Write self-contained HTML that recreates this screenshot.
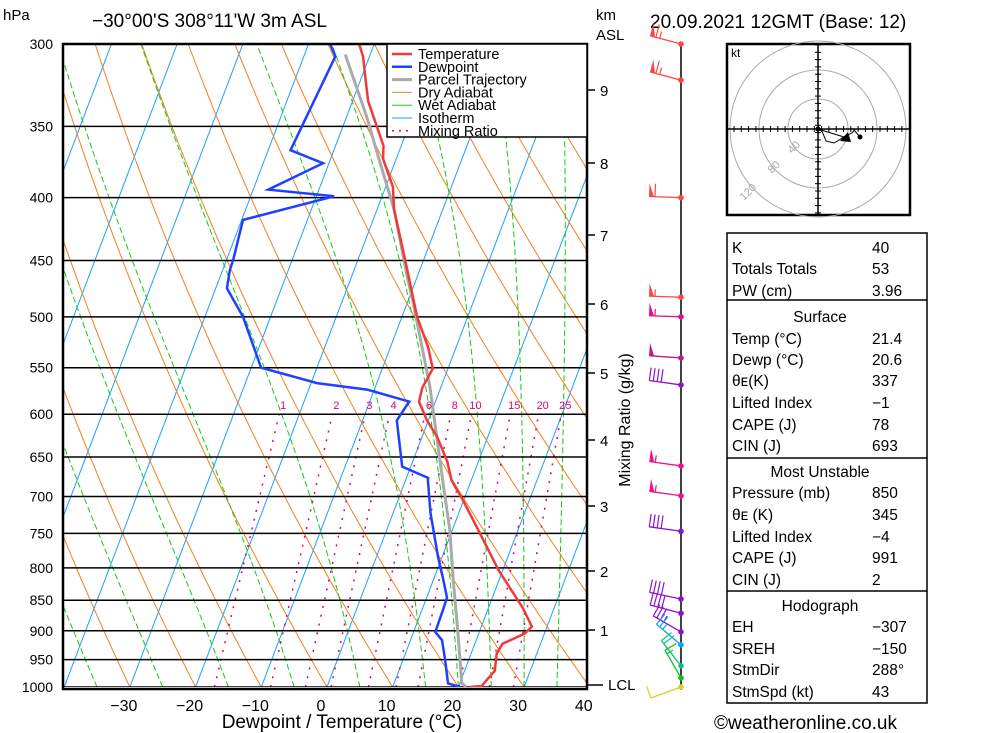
<!DOCTYPE html>
<html><head><meta charset="utf-8"><style>
html,body{margin:0;padding:0;background:#fff;}
svg{display:block;font-family:"Liberation Sans",sans-serif;}
</style></head><body>
<svg id="chart" width="1000" height="733" viewBox="0 0 1000 733" xmlns="http://www.w3.org/2000/svg">
<defs><clipPath id="plotclip"><rect x="63" y="44" width="524" height="643"/></clipPath></defs>
<rect x="0" y="0" width="1000" height="733" fill="#fff"/>
<g id="bg" clip-path="url(#plotclip)"></g>
<g id="series" clip-path="url(#plotclip)"></g>
<g id="axes"></g>
<g id="legend"></g>
<g id="winds"></g>
<g id="hodo"></g>
<g id="table"></g>
</svg>
<script>
// ---------- data ----------
const tempPressure=[1000,998,987,970,940,922,905,893,862,804,750,705,679,675,656,626,607,586,571,551,529,500,458,409,392,372,363,334,326,307,300];
const tempValues=[21.8,23.5,23.9,24.6,23.9,24.2,27.0,27.7,25.2,19.4,14.4,9.9,7.0,6.7,5.3,2.3,-0.2,-2.5,-2.8,-2.3,-4.3,-7.7,-11.9,-17.4,-18.9,-22.0,-22.7,-27.6,-28.6,-31.0,-32.3];
const dewPressure=[1000,993,950,916,902,866,846,818,784,722,679,676,662,607,586,573,566,550,500,474,458,449,417,399,394,375,366,307,300];
const dewValues=[20.2,18.2,16.4,14.8,13.3,13.2,13.1,11.5,9.4,5.7,3.4,3.3,-1.3,-4.8,-4.0,-11.1,-19.1,-28.5,-34.2,-38.3,-38.9,-39.0,-39.8,-27.3,-37.7,-30.9,-36.6,-35.2,-36.7];
const parcelPressure=[1000,993,899,818,745,683,570,487,464,409,375,344,306];
const parcelValues=[21.2,20.3,16.6,13.0,9.6,5.9,-1.7,-9.1,-11.5,-17.4,-22.2,-26.9,-33.8];
const pressureTicks=[300,350,400,450,500,550,600,650,700,750,800,850,900,950,1000];
const tempTicks=[-30,-20,-10,0,10,20,30,40];
const mixingRatios=[1,2,3,4,6,8,10,15,20,25];
const wetStarts=[-35,-25,-15,-5,5,15,20,25,30,35];
const kmLabels=["9","8","7","6","5","4","3","2","1"];
const kmPressures=[321,392,467,553,651,755,867,987,1105];
const kmTickY=[90,163,235,304,373,440,506,571,630];
const windPressure=[300,321,400,482,500,540,568,661,699,747,848,871,902,924,961,983,1000];
const windSpeed=[65,65,60,55,55,50,40,55,55,40,40,40,35,25,20,15,10];
const windColors=["#f44","#f44","#f44","#f44","#e0108a","#c01890","#9010d0","#f0108a","#f0108a","#9010d0","#9010d0","#9010d0","#9010d0","#10a0f0","#10c080","#10c020","#e0d020"];
const windAngle=[165,165,178,178,178,176,172,172,172,172,168,165,150,140,128,120,200];

const NS="http://www.w3.org/2000/svg";
function el(tag,attrs,parent){const e=document.createElementNS(NS,tag);for(const k in attrs)e.setAttribute(k,attrs[k]);parent.appendChild(e);return e;}
function Y(p){return 44+534.1*Math.log(p/300);}
function X(T,p){return 327+6.57*T+0.38*(687-Y(p));}
function pathFrom(ps,ts){return ps.map((p,i)=>(i?'L':'M')+X(ts[i],p).toFixed(1)+','+Y(p).toFixed(1)).join(' ');}
const bg=document.getElementById('bg');
// isotherms
for(let t=-120;t<=40;t+=10){
  const l=el('line',{x1:X(t,1000),y1:Y(1000),x2:X(t,300),y2:Y(300),stroke:'#1aa0ff','stroke-width':1},bg);
  
  
}
// dry adiabats
for(let th=-60;th<=200;th+=10){
  const ps=[],ts=[];
  for(let p=1000;p>=300;p-=10){ps.push(p);ts.push((th+273.15)*Math.pow(p/1000,0.286)-273.15);}
  const l=el('path',{d:pathFrom(ps,ts),fill:'none',stroke:'#f08020','stroke-width':1},bg);
  
  
}
// wet adiabats
function es(tc){return 6.112*Math.exp(17.67*tc/(tc+243.5));}
wetStarts.forEach(t0=>{
  let T=t0+273.15;const ps=[],ts=[];
  for(let p=1000;p>=300;p-=2){
    ps.push(p);ts.push(T-273.15);
    const e=es(T-273.15);const rs=0.622*e/(p-e);
    const dTdp=(287*T+2.5e6*rs)/(p*(1004+2.5e6*2.5e6*rs*0.622/(287*T*T)));
    T-=dTdp*2;
  }
  const l=el('path',{d:pathFrom(ps,ts),fill:'none',stroke:'#10cc10','stroke-width':1,'stroke-dasharray':'6,3'},bg);
  
  
});
// mixing ratio
function tdFor(w,p){const e=w*p/(622+w);const a=Math.log(e/6.112);return 243.5*a/(17.67-a);}
mixingRatios.forEach(w=>{
  const l=el('line',{x1:X(tdFor(w,1000),1000),y1:Y(1000),x2:X(tdFor(w,600),600),y2:Y(600),stroke:'#e0007a','stroke-width':1.5,'stroke-dasharray':'2,7'},bg);
  
  
});
// pressure lines
pressureTicks.forEach(p=>{
  const l=el('line',{x1:63,y1:Y(p),x2:587,y2:Y(p),stroke:'#000','stroke-width':1.5},bg);
  
  
});
// series
const ser=document.getElementById('series');
const sp=el('path',{d:pathFrom(parcelPressure,parcelValues),fill:'none',stroke:'#aaa','stroke-width':3},ser);


const sd=el('path',{d:pathFrom(dewPressure,dewValues),fill:'none',stroke:'#2040ff','stroke-width':2.5},ser);


const st=el('path',{d:pathFrom(tempPressure,tempValues),fill:'none',stroke:'#f03a3a','stroke-width':2.5},ser);


// axes
const ax=document.getElementById('axes');
el('rect',{x:63,y:44,width:524,height:645,fill:'none',stroke:'#000','stroke-width':2.5},ax);
mixingRatios.forEach(w=>{
  const t=el('text',{x:X(tdFor(w,600),600)+4,y:409,'font-size':11,fill:'#e0007a','text-anchor':'middle'},ax);
  t.textContent=w;
  
  
});
pressureTicks.forEach(p=>{
  const t=el('text',{x:53,y:Y(p)+5,'font-size':14,'text-anchor':'end'},ax);
  t.textContent=p;
  
  
});
tempTicks.forEach(v=>{
  const t=el('text',{x:X(v,1000)-6,y:711,'font-size':16,'text-anchor':'middle'},ax);
  t.textContent=(v<0?'\u2212':'')+Math.abs(v);
  
  
});
kmLabels.forEach((k,i)=>{
  el('line',{x1:587,y1:kmTickY[i],x2:595,y2:kmTickY[i],stroke:'#000','stroke-width':1.5},ax);
  const t=el('text',{x:600,y:kmTickY[i]+6,'font-size':15},ax);
  t.textContent=k;
  
  
});
el('line',{x1:587,y1:685,x2:603,y2:685,stroke:'#000','stroke-width':1.5},ax);
function txt(parent,x,y,s,size,name,extra){const t=el('text',Object.assign({x:x,y:y,'font-size':size},extra||{}),parent);t.textContent=s;return t;}
txt(ax,608,690,'LCL',15,'lcl-label');
txt(ax,3,20,'hPa',15,'pressure-unit-label');
txt(ax,596,20,'km',15,'km-unit-label');
txt(ax,596,40,'ASL',15,'asl-label');
txt(ax,92,27,'\u221230\u00b000\'S 308\u00b011\'W 3m ASL',19,'location-title');
txt(ax,650,28,'20.09.2021 12GMT (Base: 12)',19,'date-title');
txt(ax,342,728,'Dewpoint / Temperature (\u00b0C)',19,'x-axis-title',{'text-anchor':'middle'});
txt(ax,0,0,'Mixing Ratio (g/kg)',16,'mixing-ratio-axis-title',{'text-anchor':'middle',transform:'translate(630,420) rotate(-90)'});
txt(ax,714,729,'\u00a9weatheronline.co.uk',19,'copyright');
// legend
const lg=document.getElementById('legend');
el('rect',{x:387,y:44,width:200,height:93,fill:'#fff',stroke:'#000','stroke-width':1.5},lg);
const legNames=['Temperature','Dewpoint','Parcel Trajectory','Dry Adiabat','Wet Adiabat','Isotherm','Mixing Ratio'];
const legCols=['#f03a3a','#2040ff','#aaa','#f08020','#10cc10','#1aa0ff','#e0007a'];
const legW=[2.5,2.5,3,1,1,1,1.5];
legNames.forEach((n,i)=>{
  const y=54+i*12.8;
  const ln=el('line',{x1:392,y1:y,x2:412,y2:y,stroke:legCols[i],'stroke-width':legW[i]},lg);
  if(i==6)ln.setAttribute('stroke-dasharray','2,5');
  
  
  txt(lg,418,y+5,n,14.5,'legend-entry');
});
// winds
const wd=document.getElementById('winds');
el('line',{x1:681,y1:44,x2:681,y2:690,stroke:'#000','stroke-width':1.5},wd);
windPressure.forEach((p,i)=>{
  const y=Y(p),c=windColors[i],a=windAngle[i]*Math.PI/180;
  const dx=Math.cos(a),dy=-Math.sin(a);
  const tx=681+32*dx,ty=y+32*dy;
  const g=el('g',{},wd);
  
  
  el('line',{x1:681,y1:y,x2:tx,y2:ty,stroke:c,'stroke-width':1.3},g);
  el('circle',{cx:681,cy:y,r:2.8,fill:c},g);
  let s=windSpeed[i],pos=0;
  const nx=dy,ny=-dx; // perpendicular pointing up
  const up=(nx*0+ny<0)?1:-1;
  const px=nx*up,py=ny*up;
  while(s>=50){const bx=tx-dx*pos,by=ty-dy*pos;
    el('polygon',{points:`${bx},${by} ${bx-dx*5},${by-dy*5} ${bx+px*13},${by+py*13}`,fill:c},g);s-=50;pos+=6;}
  while(s>=10){const bx=tx-dx*pos,by=ty-dy*pos;
    el('line',{x1:bx,y1:by,x2:bx+px*13,y2:by+py*13,stroke:c,'stroke-width':1.2},g);s-=10;pos+=4;}
  if(s>=5){const bx=tx-dx*pos,by=ty-dy*pos;
    el('line',{x1:bx,y1:by,x2:bx+px*7,y2:by+py*7,stroke:c,'stroke-width':1.2},g);}
});
// hodograph
const hd=document.getElementById('hodo');
const cx=818,cy=129;
el('rect',{x:727,y:44,width:183,height:171,fill:'#fff',stroke:'#000','stroke-width':2.5},hd);
[30,59,88].forEach(r=>el('circle',{cx:cx,cy:cy,r:r,fill:'none',stroke:'#aaa','stroke-width':1},hd));
el('line',{x1:727,y1:cy,x2:910,y2:cy,stroke:'#000','stroke-width':1.5},hd);
el('line',{x1:cx,y1:44,x2:cx,y2:215,stroke:'#000','stroke-width':1.5},hd);
for(let d=-84;d<=84;d+=7.3){
  el('line',{x1:cx+d,y1:cy-3,x2:cx+d,y2:cy+3,stroke:'#000','stroke-width':1},hd);
  el('line',{x1:cx-3,y1:cy+d,x2:cx+3,y2:cy+d,stroke:'#000','stroke-width':1},hd);
}
txt(hd,731,57,'kt',12,'hodograph-unit');
txt(hd,0,0,'40',11,'hodo-ring-label',{fill:'#aaa',transform:`translate(${cx-26},${cy+25}) rotate(-45)`});
txt(hd,0,0,'80',11,'hodo-ring-label',{fill:'#aaa',transform:`translate(${cx-46},${cy+45}) rotate(-45)`});
txt(hd,0,0,'120',11,'hodo-ring-label',{fill:'#aaa',transform:`translate(${cx-74},${cy+72}) rotate(-45)`});
el('polyline',{points:`${cx},${cy} ${cx+4},${cy+2} ${cx+8},${cy+12} ${cx+16},${cy+14} ${cx+26},${cy+8} ${cx+32},${cy+5} ${cx+35},${cy+3} ${cx+36},${cy+1} ${cx+42},${cy+8}`,fill:'none',stroke:'#000','stroke-width':1},hd);
el('polyline',{points:`${cx},${cy} ${cx+26},${cy+8}`,fill:'none',stroke:'#000','stroke-width':1},hd);
el('polygon',{points:`${cx+22},${cy+12} ${cx+30},${cy+3} ${cx+33},${cy+13}`,fill:'#000'},hd);
el('circle',{cx:cx,cy:cy,r:2.5,fill:'#000'},hd);
el('circle',{cx:cx+42,cy:cy+8,r:2.5,fill:'#000'},hd);
// table
const tb=document.getElementById('table');
el('rect',{x:727,y:233,width:200,height:470,fill:'none',stroke:'#000','stroke-width':1.5},tb);
[300,458,591].forEach(y=>el('line',{x1:727,y1:y,x2:927,y2:y,stroke:'#000','stroke-width':1.5},tb));
const rows=[
 [247,'K','40'],[268,'Totals Totals','53'],[290,'PW (cm)','3.96'],
 [316,'Surface',null],[338,'Temp (\u00b0C)','21.4'],[359,'Dewp (\u00b0C)','20.6'],[380,'\u03b8\u1d07(K)','337'],[402,'Lifted Index','\u22121'],[424,'CAPE (J)','78'],[445,'CIN (J)','693'],
 [471,'Most Unstable',null],[492,'Pressure (mb)','850'],[514,'\u03b8\u1d07 (K)','345'],[536,'Lifted Index','\u22124'],[557,'CAPE (J)','991'],[579,'CIN (J)','2'],
 [605,'Hodograph',null],[626,'EH','\u2212307'],[648,'SREH','\u2212150'],[669,'StmDir','288\u00b0'],[691,'StmSpd (kt)','43']];
rows.forEach(r=>{
  if(r[2]===null){txt(tb,820,r[0]+6,r[1],15.5,'table-section-title',{'text-anchor':'middle'});}
  else{txt(tb,732,r[0]+6,r[1],15.5,'table-row-label');txt(tb,872,r[0]+6,r[2],15.5,'table-row-value');}
});
</script>
</body></html>
